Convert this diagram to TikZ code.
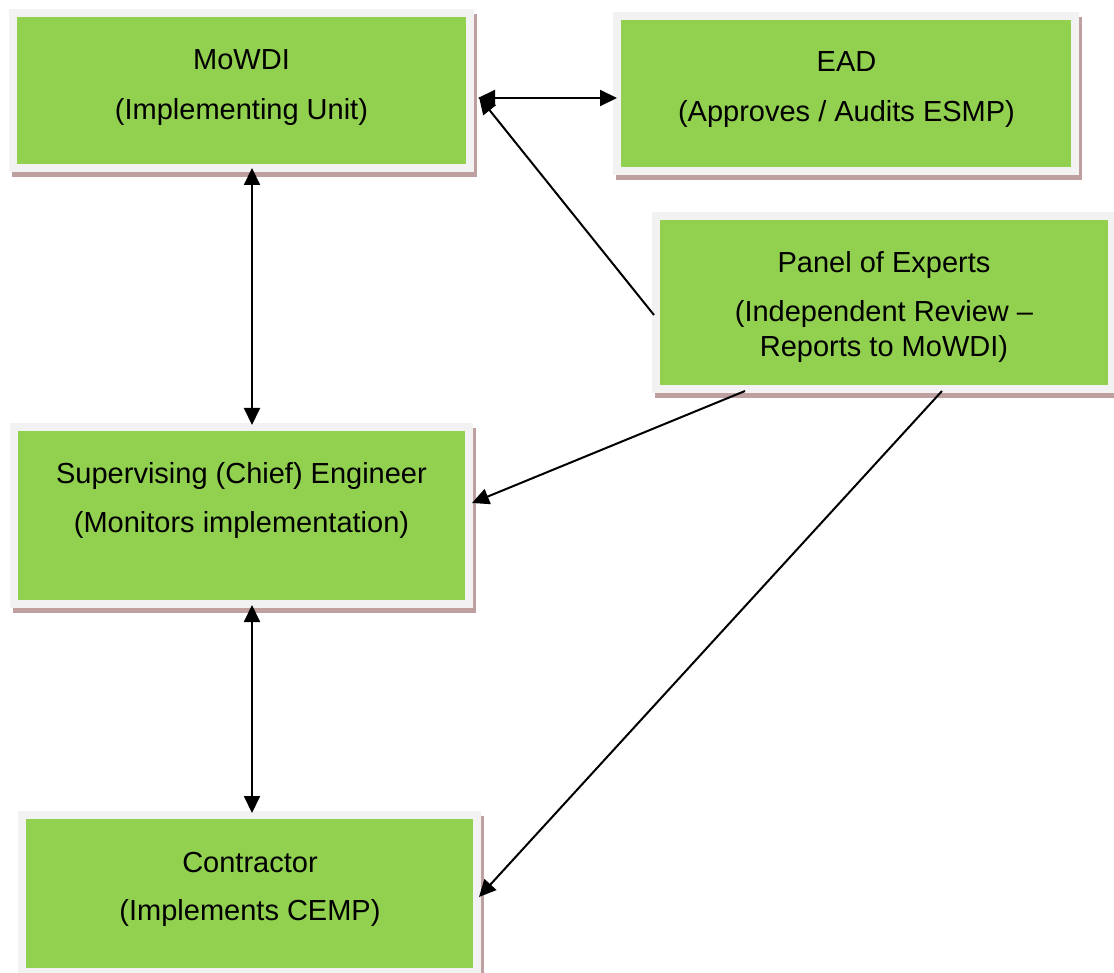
\documentclass[tikz,border=0pt]{standalone}
\usepackage{fontspec}
\setmainfont{Liberation Sans}
\usetikzlibrary{arrows.meta,calc,backgrounds}
\definecolor{boxgreen}{HTML}{92D050}
\definecolor{framegray}{HTML}{F2F2F2}
\definecolor{shadowc}{RGB}{190,160,160}
\tikzset{
  box/.style={rectangle, fill=boxgreen, draw=framegray, line width=8pt, inner sep=0pt},
  txt/.style={font=\fontsize{29}{35}\selectfont, inner sep=0pt, anchor=base, text=black},
  conn/.style={line width=2pt, draw=black, -{Triangle[length=17pt,width=16pt]}},
  dconn/.style={line width=2pt, draw=black, {Triangle[length=17pt,width=16pt]}-{Triangle[length=17pt,width=16pt]}},
}
\begin{document}
\begin{tikzpicture}[x=1pt,y=-1pt]
\clip (0,0) rectangle (1114,973);

% boxes
\node[box, minimum width=457pt, minimum height=155pt] (mowdi) at (241.5,90.5) {};
\node[box, minimum width=458pt, minimum height=155pt] (ead) at (846,93.5) {};
\node[box, minimum width=456pt, minimum height=173pt] (panel) at (884,302.5) {};
\node[box, minimum width=455pt, minimum height=177pt] (sup) at (241.5,515.5) {};
\node[box, minimum width=455pt, minimum height=157pt] (con) at (249.5,893.5) {};

% background and shadows
\begin{scope}[on background layer]
  \fill[white] (0,0) rectangle (1114,973);
  \foreach \n in {mowdi,ead,panel,sup,con}{
    \fill[shadowc] ($(\n.north west)+(3,5)$) rectangle ($(\n.south east)+(3,5)$);
  }
\end{scope}

% texts
\node[txt] (t1a) at (241.5,70) {MoWDI};
\node[txt] (t1b) at (241.5,120) {(Implementing Unit)};
\node[txt] (t2a) at (846.5,72) {EAD};
\node[txt] (t2b) at (846.5,122) {(Approves / Audits ESMP)};
\node[txt] (t3a) at (884,273) {Panel of Experts};
\node[txt] (t3b) at (884,322) {(Independent Review –};
\node[txt] (t3c) at (884,357) {Reports to MoWDI)};
\node[txt] (t4a) at (241.5,483) {Supervising (Chief) Engineer};
\node[txt] (t4b) at (241.5,532) {(Monitors implementation)};
\node[txt] (t5a) at (250,872) {Contractor};
\node[txt] (t5b) at (250,920) {(Implements CEMP)};

% connectors
\draw[dconn] ($(mowdi.east)+(4,7.5)$) -- ($(ead.west)+(4,4.5)$);
\draw[dconn] ($(mowdi.south)+(10.5,-4)$) -- ($(sup.north)+(10.5,2)$);
\draw[dconn] ($(sup.south)+(10.5,-3)$) -- ($(con.north)+(2.5,2)$);
\draw[conn] ($(panel.west)+(2,12.5)$) -- ($(mowdi.east)+(5,6.5)$);
\draw[conn] ($(panel.south)+(-139,-2)$) -- ($(sup.east)+(-1,-12.5)$);
\draw[conn] ($(panel.south)+(58,-2)$) -- ($(con.east)+(-2,3.5)$);
\end{tikzpicture}
\end{document}
